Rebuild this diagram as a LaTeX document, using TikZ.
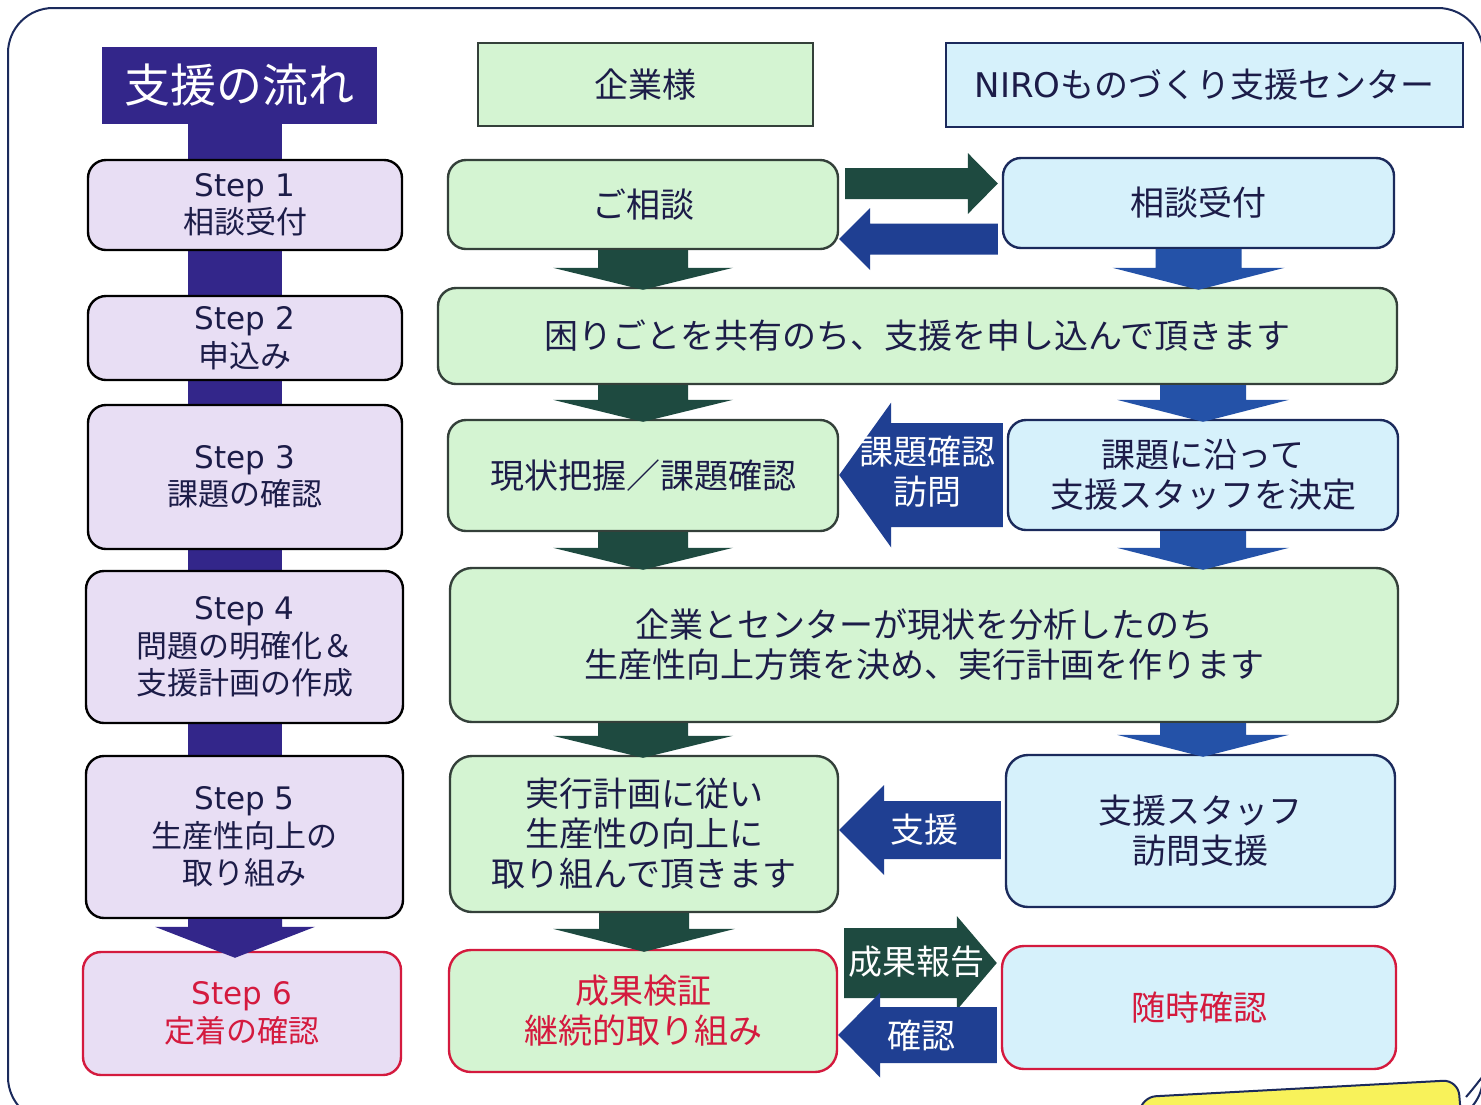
\documentclass[tikz,border=0pt]{standalone}
\usepackage{fontspec}
\setmainfont{Noto Sans CJK JP}
\newfontfamily\latf{DejaVu Sans}
\usetikzlibrary{calc,backgrounds}

\definecolor{navy}{HTML}{1B2A5C}
\definecolor{barc}{HTML}{33268A}
\definecolor{lav}{HTML}{E8DEF4}
\definecolor{lgreen}{HTML}{D4F4D2}
\definecolor{lblue}{HTML}{D6F1FB}
\definecolor{dgreen}{HTML}{1E4A40}
\definecolor{ablue}{HTML}{1F3F92}
\definecolor{dblue}{HTML}{2452A8}
\definecolor{txt}{HTML}{1C1C48}
\definecolor{myred}{HTML}{D41A3E}
\definecolor{gborder}{HTML}{34403A}
\definecolor{ylw}{HTML}{F8F25A}

\newcommand\bxfont{\fontsize{34}{40}\selectfont}
\newcommand\stfont{\fontsize{31}{37.5}\selectfont}
\newcommand\stp[1]{{\latf Step #1}}

% vertical block arrow: colour, from, to, x-node, half shaft, half head, head length
\newcommand\vblk[7]{\fill[#1] ($(#4 |- #2.south)+(-#5,0)$) -- ($(#4 |- #2.south)+(#5,0)$) -- ($(#4 |- #3.north)+(#5,-#7)$) -- ($(#4 |- #3.north)+(#6,-#7)$) -- ($(#4 |- #3.north)+(0,3)$) -- ($(#4 |- #3.north)+(-#6,-#7)$) -- ($(#4 |- #3.north)+(-#5,-#7)$) -- cycle;}
% right block arrow: colour, from, to, y centre, half shaft, half head, head length
\newcommand\rblk[7]{\fill[#1] ($(#2.east |- 0,#4)+(6,-#5)$) -- ($(#3.west |- 0,#4)+(-#7-4,-#5)$) -- ($(#3.west |- 0,#4)+(-#7-4,-#6)$) -- ($(#3.west |- 0,#4)+(-4,0)$) -- ($(#3.west |- 0,#4)+(-#7-4,#6)$) -- ($(#3.west |- 0,#4)+(-#7-4,#5)$) -- ($(#2.east |- 0,#4)+(6,#5)$) -- cycle;}
% left block arrow: colour, from, to, y centre, half shaft, half head, head length
\newcommand\lblk[7]{\fill[#1] ($(#2.west |- 0,#4)+(-4,-#5)$) -- ($(#3.east |- 0,#4)+(#7,-#5)$) -- ($(#3.east |- 0,#4)+(#7,-#6)$) -- (#3.east |- 0,#4) -- ($(#3.east |- 0,#4)+(#7,#6)$) -- ($(#3.east |- 0,#4)+(#7,#5)$) -- ($(#2.west |- 0,#4)+(-4,#5)$) -- cycle;}

\tikzset{
  stepbox/.style={draw=black, fill=lav, line width=2.4, rounded corners=18, text=txt, align=center, font=\stfont, inner sep=0},
  gbox/.style={draw=gborder, fill=lgreen, line width=2.4, rounded corners=18, text=txt, align=center, font=\bxfont, inner sep=0},
  bbox/.style={draw=navy, fill=lblue, line width=2.4, rounded corners=18, text=txt, align=center, font=\bxfont, inner sep=0},
  redline/.style={draw=myred, text=myred},
  arrtxt/.style={text=white, align=center, font=\bxfont, inner sep=0},
}

\begin{document}
\begin{tikzpicture}[x=1pt,y=-1pt]
\useasboundingbox (0,0) rectangle (1481,1104);
\clip (0,0) rectangle (1481,1104);

% outer frame
\draw[navy, line width=2, rounded corners=45] (8,8) rectangle (1483,1122);

% headers
\node[fill=barc, text=white, minimum width=275, minimum height=77, inner sep=0, font=\fontsize{46}{50}\selectfont] (hdr) at (239.5,85.5) {支援の流れ};
\node[draw=gborder, fill=lgreen, line width=2.4, minimum width=335, minimum height=83, inner sep=0, text=txt, font=\bxfont] (hk) at (645.5,84.5) {企業様};
\node[draw=navy, fill=lblue, line width=2.4, minimum width=517, minimum height=84, inner sep=0, text=txt, font=\bxfont] (hn) at (1204.5,85) {{\latf NIRO}ものづくり支援センター};

% step boxes
\node[stepbox, minimum width=314, minimum height=90] (s1) at (245,205) {\stp{1}\\相談受付};
\node[stepbox, minimum width=314, minimum height=84] (s2) at (245,338) {\stp{2}\\申込み};
\node[stepbox, minimum width=314, minimum height=144] (s3) at (245,477) {\stp{3}\\課題の確認};
\node[stepbox, minimum width=317, minimum height=152] (s4) at (244.5,647) {\stp{4}\\問題の明確化＆\\支援計画の作成};
\node[stepbox, minimum width=317, minimum height=162] (s5) at (244.5,837) {\stp{5}\\生産性向上の\\取り組み};
\node[stepbox, redline, minimum width=318, minimum height=123] (s6) at (242,1013.5) {\stp{6}\\定着の確認};

% purple flow bar (behind step boxes)
\begin{pgfonlayer}{background}
\fill[white] (0,0) rectangle (1481,1104);
\fill[barc] (188,0 |- hdr.south) -- (282,0 |- hdr.south) -- ($(282,0 |- s6.north)+(0,-24)$) -- ($(188,0 |- s6.north)+(0,-24)$) -- cycle;
\end{pgfonlayer}

% arrow head into step 6
\fill[barc] (188,0 |- s5.south) -- (282,0 |- s5.south) -- ($(282,0 |- s6.north)+(0,-24)$) -- ($(315,0 |- s6.north)+(0,-24)$) -- ($(235,0 |- s6.north)+(0,7)$) -- ($(155,0 |- s6.north)+(0,-24)$) -- ($(188,0 |- s6.north)+(0,-24)$) -- cycle;

% company column
\node[gbox, minimum width=390, minimum height=89] (g1) at (643,204.5) {ご相談};
\node[gbox, minimum width=959, minimum height=96] (g2) at (917.5,336) {困りごとを共有のち、支援を申し込んで頂きます};
\node[gbox, minimum width=390, minimum height=111] (g3) at (643,475.5) {現状把握／課題確認};
\node[gbox, minimum width=948, minimum height=154, rounded corners=22] (g4) at (924,645) {企業とセンターが現状を分析したのち\\生産性向上方策を決め、実行計画を作ります};
\node[gbox, minimum width=388, minimum height=156, rounded corners=22] (g5) at (644,834) {実行計画に従い\\生産性の向上に\\取り組んで頂きます};
\node[gbox, redline, minimum width=388, minimum height=122, rounded corners=22] (g6) at (643,1011) {成果検証\\継続的取り組み};

% centre column
\node[bbox, minimum width=391, minimum height=90] (b1) at (1198.5,203) {相談受付};
\node[bbox, minimum width=390, minimum height=110] (b3) at (1203,475) {課題に沿って\\支援スタッフを決定};
\node[bbox, minimum width=389, minimum height=152, rounded corners=22] (b5) at (1200.5,831) {支援スタッフ\\訪問支援};
\node[bbox, redline, minimum width=394, minimum height=123, rounded corners=22] (b6) at (1199,1007.5) {随時確認};

% vertical arrows, company column
\vblk{dgreen}{g1}{g2}{g1}{45}{90}{19}
\vblk{dgreen}{g2}{g3}{g3}{45}{90}{19}
\vblk{dgreen}{g3}{g4}{g3}{45}{90}{19}
\vblk{dgreen}{g4}{g5}{g3}{45}{90}{19}
\vblk{dgreen}{g5}{g6}{g5}{45}{91}{20}

% vertical arrows, centre column
\vblk{dblue}{b1}{g2}{b1}{43}{86}{19}
\vblk{dblue}{g2}{b3}{b3}{43}{86}{19}
\vblk{dblue}{b3}{g4}{b3}{43}{86}{19}
\vblk{dblue}{g4}{b5}{b3}{43}{86}{19}

% horizontal arrows
\rblk{dgreen}{g1}{b1}{183.5}{15.5}{30.5}{30}
\lblk{ablue}{b1}{g1}{239}{15.5}{31}{31}
\lblk{ablue}{b3}{g3}{475}{52}{72.5}{52}
\lblk{ablue}{b5}{g5}{830}{29}{45}{45}
\rblk{dgreen}{g6}{b6}{963}{35}{47}{40}
\lblk{ablue}{b6}{g6}{1035}{28}{42.5}{42}

% arrow labels
\node[arrtxt] (t3) at (927,472) {課題確認\\訪問};
\node[arrtxt] (t5) at (924,830) {支援};
\node[arrtxt] (t6a) at (916,962) {成果報告};
\node[arrtxt] (t6b) at (921,1036) {確認};

% yellow callout (cut off at the bottom)
\draw[navy, line width=2, fill=ylw, rounded corners=15] (1137,1140) -- (1141,1097) -- (1458,1080) -- (1463,1140);
\draw[navy, line width=2] (1466,1097) .. controls (1472,1090) .. (1483,1076);
\end{tikzpicture}
\end{document}
